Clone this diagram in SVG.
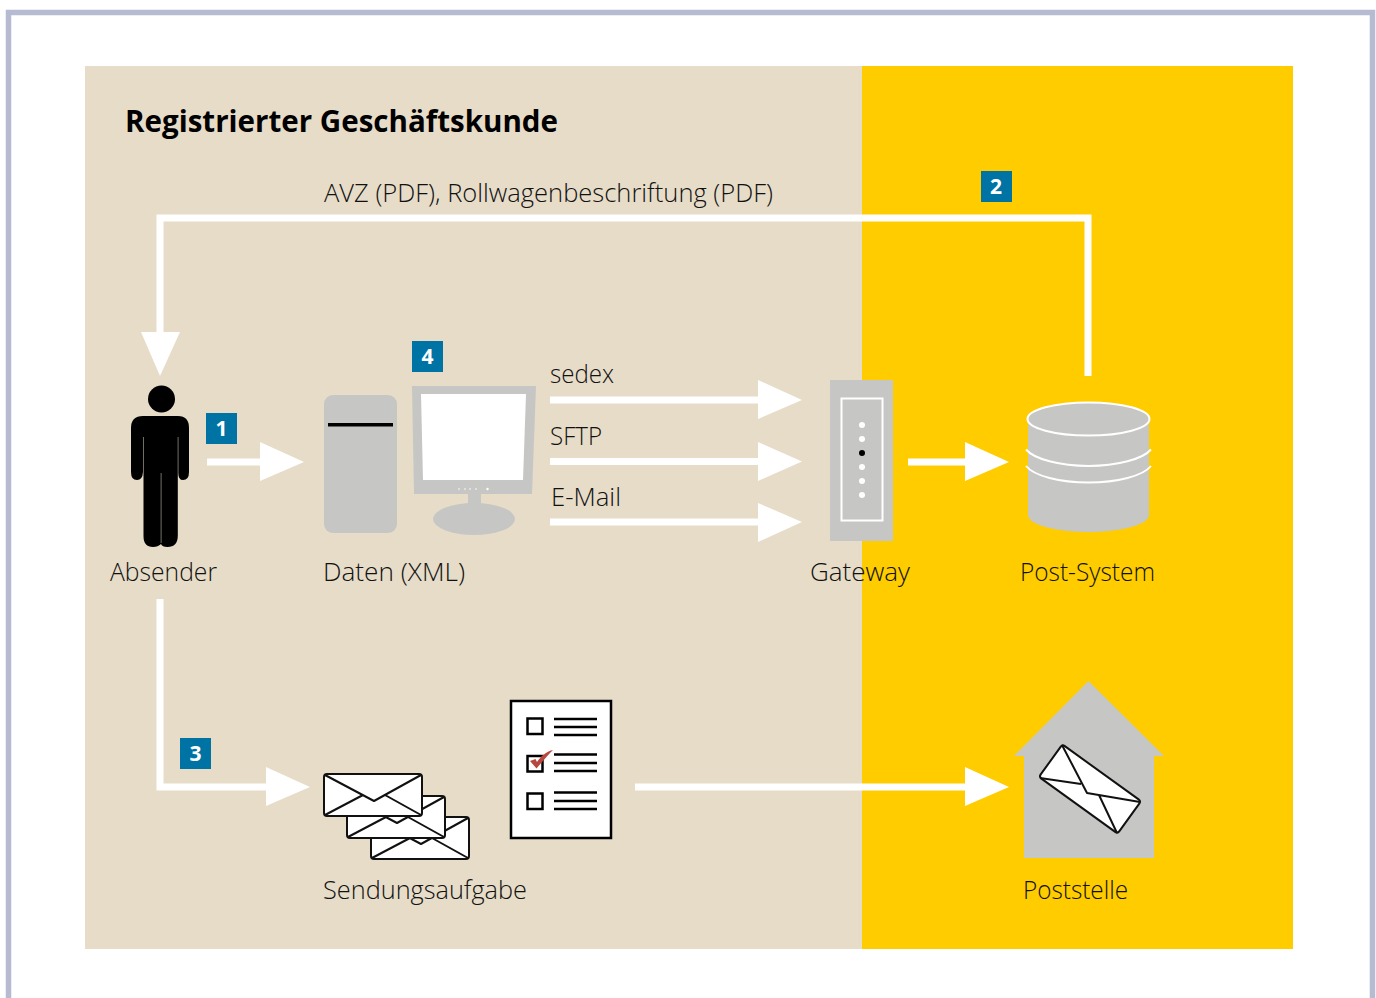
<svg xmlns="http://www.w3.org/2000/svg" xmlns:xlink="http://www.w3.org/1999/xlink" width="1376" height="998" viewBox="0 0 1376 998">
<style>
text{font-family:"Open Sans","Noto Sans","Liberation Sans",sans-serif;}
.l{font-size:26px;font-weight:300;fill:#111;}
.t{font-size:30px;font-weight:700;fill:#000;}
.b{fill:#0073a5;}
.n{font-size:21px;font-weight:700;fill:#fff;text-anchor:middle;}
.g{fill:#c6c6c5;}
.w{fill:#fff;}
.k{fill:#fff;stroke:#111;stroke-width:2;stroke-linejoin:round;}
.f{fill:none;stroke:#111;stroke-width:2;stroke-linejoin:round;}
.s{fill:none;stroke:#000;stroke-width:2.400;}
.c{fill:none;stroke:#fff;}
.h{fill:#fff;}
</style>
<defs>
<g id="env">
<rect x="0" y="0" width="98" height="42" rx="3" class="k"/>
<path class="f" d="M1 1L50 27L97 1M1 41L39 21M97 41L61 21"/>
</g>
</defs>
<rect width="1376" height="998" fill="#fff"/>
<path d="M8.500 998V12.500H1372.500V998" fill="none" stroke="#b7bbd2" stroke-width="5.500"/>
<rect x="85" y="66" width="777" height="883" fill="#e6dcc8"/>
<rect x="862" y="66" width="431" height="883" fill="#ffcc00"/>
<text class="t" x="125" y="132" textLength="433" lengthAdjust="spacingAndGlyphs">Registrierter Geschäftskunde</text>
<g id="connectors">
<path class="c" stroke-width="7" d="M1088 376V218H160V335"/>
<polygon class="h" points="141,332 180,332 160,376"/>
<path class="c" stroke-width="7" d="M207 462H262"/>
<polygon class="h" points="260,442 304,462 260,481"/>
<path class="c" stroke-width="7" d="M550 400H760"/>
<polygon class="h" points="758,380 802,400 758,419"/>
<path class="c" stroke-width="7" d="M550 461.500H760"/>
<polygon class="h" points="758,442 802,461.500 758,481"/>
<path class="c" stroke-width="7" d="M550 522H760"/>
<polygon class="h" points="758,503 802,522 758,542"/>
<path class="c" stroke-width="7" d="M908 462H967"/>
<polygon class="h" points="965,442 1009,462 965,481"/>
<path class="c" stroke-width="7" d="M160 599V787H268"/>
<polygon class="h" points="266,767 310,787 266,806"/>
<path class="c" stroke-width="7" d="M635 787H967"/>
<polygon class="h" points="965,767 1009,787 965,806"/>
</g>
<g id="label-avz"><text class="l" x="324" y="202" textLength="449" lengthAdjust="spacingAndGlyphs">AVZ (PDF), Rollwagenbeschriftung (PDF)</text></g>
<g id="badge-1"><rect class="b" x="206" y="413" width="31" height="31"/><text class="n" x="221.500" y="436">1</text></g>
<g id="badge-2"><rect class="b" x="981" y="171" width="31" height="31"/><text class="n" x="996" y="194">2</text></g>
<g id="badge-3"><rect class="b" x="180" y="738" width="31" height="31"/><text class="n" x="195.500" y="761">3</text></g>
<g id="badge-4"><rect class="b" x="412" y="341" width="31" height="31"/><text class="n" x="427.500" y="364">4</text></g>
<g id="absender">
<circle cx="161.500" cy="399" r="13.500" fill="#000"/>
<path fill="#000" d="M143 416H178Q189 416 189 428V472Q189 480 183 480Q178 480 178.300 472V437H177.800V473V536Q177.500 547 167.500 547Q162 547 161 544Q158 547 153 547Q143.500 547 143.500 536V437H143V472Q142.500 480 137 480Q131 480 131 472V428Q131 416 143 416Z"/>
<rect x="160.800" y="473" width="0.500" height="70" fill="#e6dcc8"/>
<text class="l" x="110" y="581" textLength="107" lengthAdjust="spacingAndGlyphs">Absender</text>
</g>
<g id="daten">
<rect class="g" x="324" y="395" width="73" height="138" rx="9"/>
<rect x="328" y="423" width="65" height="3.500" fill="#000"/>
<path class="g" d="M412 386H536L532 494H414Z"/>
<path class="w" d="M421 394H526L523 480H423Z"/>
<rect class="g" x="468" y="492" width="13" height="12"/>
<ellipse class="g" cx="474" cy="519" rx="41" ry="16"/>
<g fill="#fff"><circle cx="459" cy="489" r=".8"/><circle cx="465" cy="489" r=".8"/><circle cx="470" cy="489" r=".8"/><circle cx="476" cy="489" r=".8"/><circle cx="487.500" cy="489" r="1.200"/></g>
<text class="l" x="323" y="581" textLength="142" lengthAdjust="spacingAndGlyphs">Daten (XML)</text>
</g>
<g id="protokolle">
<text class="l" x="550" y="383" textLength="64" lengthAdjust="spacingAndGlyphs">sedex</text>
<text class="l" x="550" y="445" textLength="52" lengthAdjust="spacingAndGlyphs">SFTP</text>
<text class="l" x="551" y="506" textLength="70" lengthAdjust="spacingAndGlyphs">E-Mail</text>
</g>
<g id="gateway">
<rect class="g" x="830" y="380" width="63" height="161"/>
<rect x="841.500" y="398.500" width="41" height="122" fill="none" stroke="#fff" stroke-width="2"/>
<g fill="#fff"><circle cx="862" cy="425" r="3"/><circle cx="862" cy="439" r="3"/><circle cx="862" cy="467" r="3"/><circle cx="862" cy="481" r="3"/><circle cx="862" cy="495" r="3"/></g>
<circle cx="862" cy="453" r="3" fill="#000"/>
<text class="l" x="810" y="581" textLength="100" lengthAdjust="spacingAndGlyphs">Gateway</text>
</g>
<g id="post-system">
<path class="g" d="M1028 419H1149V515C1149 525 1120 532 1088.500 532C1057 532 1028 525 1028 515Z"/>
<ellipse class="g" cx="1088.500" cy="419" rx="61" ry="16.500" stroke="#fff" stroke-width="2"/>
<path class="c" stroke-width="2" d="M1026 449.500C1034 459 1060 466 1088.500 466C1117 466 1143 459 1151 449.500"/>
<path class="c" stroke-width="2" d="M1026 466C1034 476 1060 482.500 1088.500 482.500C1117 482.500 1143 476 1151 466"/>
<text class="l" x="1020" y="581" textLength="135" lengthAdjust="spacingAndGlyphs">Post-System</text>
</g>
<g id="sendungsaufgabe">
<use xlink:href="#env" href="#env" x="371" y="817"/>
<use xlink:href="#env" href="#env" x="347" y="796"/>
<use xlink:href="#env" href="#env" x="324" y="774"/>
<rect x="511" y="701" width="100" height="137" fill="#fff" stroke="#000" stroke-width="2.500"/>
<rect x="527.500" y="718.500" width="15" height="15.500" fill="#fff" stroke="#000" stroke-width="2.500"/>
<rect x="527.500" y="756" width="15" height="15.500" fill="#fff" stroke="#000" stroke-width="2.500"/>
<rect x="527.500" y="793.500" width="15" height="15.500" fill="#fff" stroke="#000" stroke-width="2.500"/>
<path class="s" d="M554 719H597M554 727H597M554 735H597M554 754.500H597M554 763H597M554 771H597M554 792.500H597M554 801H597M554 809H597"/>
<path fill="#b8483e" d="M530 761L535.500 759L537 762C541 756 547 751 553 750C548 755 542 762 536.500 768.500Z"/>
<text class="l" x="323" y="899" textLength="204" lengthAdjust="spacingAndGlyphs">Sendungsaufgabe</text>
</g>
<g id="poststelle">
<path class="g" d="M1088.500 681L1164 756H1154V858H1024V756H1014Z"/>
<g transform="translate(1090 789) rotate(35.800)"><rect x="-48.500" y="-20" width="97" height="40" rx="3" class="k"/></g>
<path class="f" d="M1062 745L1087 793L1140 802M1040 778L1081 784M1117 833L1099 795"/>
<text class="l" x="1023" y="899" textLength="105" lengthAdjust="spacingAndGlyphs">Poststelle</text>
</g>
</svg>
